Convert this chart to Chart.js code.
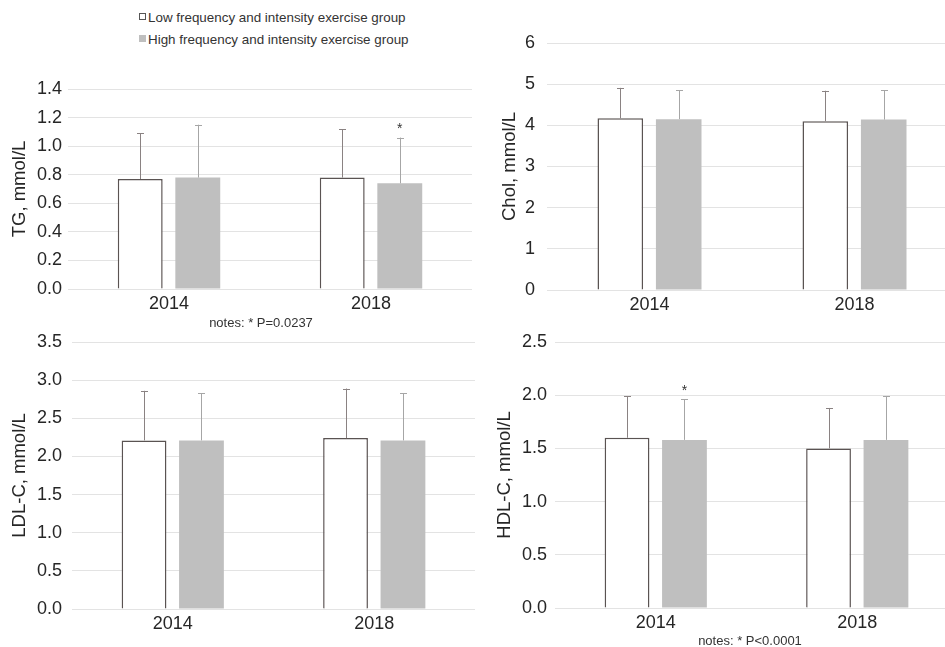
<!DOCTYPE html>
<html>
<head>
<meta charset="utf-8">
<script src="https://cdn.jsdelivr.net/npm/chart.js@4/dist/chart.umd.min.js"></script>
<style>
    html, body { margin: 0; padding: 0; background: #fff; }
    body { width: 945px; height: 647px; position: relative; overflow: hidden; font-family: "Liberation Sans", Arial, sans-serif; }
    canvas { position: absolute; }
    .legend-item { position: absolute; left: 139px; font-size: 13.4px; color: #333; white-space: nowrap; line-height: 16px; }
    .legend-item span.box { display: inline-block; width: 5px; height: 5px; margin-right: 2px; vertical-align: 2px; }
    .note { position: absolute; font-size: 13px; color: #333; white-space: nowrap; transform: translateX(-50%); }
</style>
</head>
<body>
<div id="legend"></div>
<canvas id="tgChart" width="475" height="248" style="left:0px;top:72px"></canvas>
<canvas id="cholChart" width="490" height="320" style="left:470px;top:0px"></canvas>
<canvas id="ldlChart" width="478" height="327" style="left:0px;top:320px"></canvas>
<canvas id="hdlChart" width="490" height="327" style="left:470px;top:320px"></canvas>
<div class="note" style="left:261px;top:315px">notes: * P=0.0237</div>
<div class="note" style="left:750px;top:633px">notes: * P&lt;0.0001</div>
<script>
// Categories and group names
var years = ['2014', '2018'];
var groupNames = ['Low frequency and intensity exercise group', 'High frequency and intensity exercise group'];

// TG (mean and SD per year)
var tgLow = [0.77, 0.78];
var tgLowSd = [0.32, 0.34];
var tgHigh = [0.78, 0.74];
var tgHighSd = [0.37, 0.32];

// Chol
var cholLow = [4.17, 4.10];
var cholLowSd = [0.74, 0.74];
var cholHigh = [4.15, 4.14];
var cholHighSd = [0.70, 0.71];

// LDL-C
var ldlLow = [2.21, 2.24];
var ldlLowSd = [0.65, 0.65];
var ldlHigh = [2.21, 2.21];
var ldlHighSd = [0.62, 0.62];

// HDL-C
var hdlLow = [1.60, 1.50];
var hdlLowSd = [0.39, 0.38];
var hdlHigh = [1.58, 1.58];
var hdlHighSd = [0.38, 0.41];

// Significance marks: [datasetIndex, yearIndex]
var tgStars = [[1, 1]];
var hdlStars = [[1, 0]];

var fontFamily = '"Liberation Sans", Arial, sans-serif';
var textColor = '#262626';

// legend built from the group names
var legendEl = document.getElementById('legend');
var legendBoxes = ['background:#fff;border:1px solid #555;', 'background:#bfbfbf;border:1px solid #bfbfbf;'];
var legendTops = [10, 32];
groupNames.forEach(function (name, i) {
    var div = document.createElement('div');
    div.className = 'legend-item';
    div.style.top = legendTops[i] + 'px';
    div.innerHTML = '<span class="box" style="' + legendBoxes[i] + '"></span>' + name;
    legendEl.appendChild(div);
});

// draws the upper error bars and the stars
var errorBarPlugin = {
    id: 'errorBars',
    afterDatasetsDraw: function (chart) {
        var ctx = chart.ctx;
        var yScale = chart.scales.y;
        var sds = chart.options.plugins.errorBars.sds;
        var stars = chart.options.plugins.errorBars.stars || [];
        var colors = ['#8a8282', '#a6a6a6'];
        ctx.save();
        chart.data.datasets.forEach(function (ds, di) {
            var meta = chart.getDatasetMeta(di);
            meta.data.forEach(function (bar, i) {
                var top = yScale.getPixelForValue(ds.data[i] + sds[di][i]);
                ctx.strokeStyle = colors[di];
                ctx.lineWidth = 1;
                ctx.beginPath();
                ctx.moveTo(Math.round(bar.x) + 0.5, bar.y);
                ctx.lineTo(Math.round(bar.x) + 0.5, top);
                ctx.moveTo(Math.round(bar.x) - 3, Math.round(top) + 0.5);
                ctx.lineTo(Math.round(bar.x) + 4, Math.round(top) + 0.5);
                ctx.stroke();
            });
        });
        stars.forEach(function (s) {
            var ds = chart.data.datasets[s[0]];
            var bar = chart.getDatasetMeta(s[0]).data[s[1]];
            var top = yScale.getPixelForValue(ds.data[s[1]] + sds[s[0]][s[1]]);
            ctx.fillStyle = '#333';
            ctx.font = '14px ' + fontFamily;
            ctx.textAlign = 'center';
            ctx.textBaseline = 'middle';
            ctx.fillText('*', bar.x, top - 8);
        });
        ctx.restore();
    }
};

function buildPanel(canvasId, p) {
    return new Chart(document.getElementById(canvasId), {
        type: 'bar',
        data: {
            labels: years,
            datasets: [{
                label: groupNames[0],
                data: p.low,
                backgroundColor: '#ffffff',
                borderColor: '#5a5352',
                borderWidth: 1.5,
                categoryPercentage: 0.57,
                barPercentage: 0.78
            }, {
                label: groupNames[1],
                data: p.high,
                backgroundColor: '#bfbfbf',
                borderWidth: 0,
                categoryPercentage: 0.57,
                barPercentage: 0.78
            }]
        },
        options: {
            responsive: false,
            animation: false,
            devicePixelRatio: 1,
            layout: {
                padding: { top: p.padTop, right: p.padRight, bottom: 0, left: 0 }
            },
            plugins: {
                legend: { display: false },
                tooltip: { enabled: false },
                errorBars: { sds: [p.lowSd, p.highSd], stars: p.stars }
            },
            scales: {
                x: {
                    grid: { display: false, drawTicks: false },
                    border: { display: false },
                    ticks: { color: textColor, padding: 4, font: { size: 18, family: fontFamily } },
                    afterFit: function (scale) { scale.height = p.xHeight; }
                },
                y: {
                    min: 0,
                    max: p.max,
                    grid: { color: '#e3e3e3', lineWidth: 1, drawTicks: false },
                    border: { display: false },
                    ticks: {
                        stepSize: p.step,
                        padding: p.tickPad,
                        color: textColor,
                        font: { size: 18, family: fontFamily },
                        callback: function (v) { return v.toFixed(p.decimals); }
                    },
                    title: {
                        display: true,
                        text: p.title,
                        color: textColor,
                        font: { size: 18.5, family: fontFamily },
                        padding: { top: p.titlePad, bottom: 0 }
                    },
                    afterFit: function (scale) { scale.width = p.yWidth; }
                }
            }
        },
        plugins: [errorBarPlugin]
    });
}

buildPanel('tgChart', {
    low: tgLow, high: tgHigh, lowSd: tgLowSd, highSd: tgHighSd, stars: tgStars,
    max: 1.4, step: 0.2, decimals: 1, title: 'TG, mmol/L',
    yWidth: 68, padTop: 17, padRight: 3, xHeight: 31, tickPad: 6, titlePad: 9
});
buildPanel('cholChart', {
    low: cholLow, high: cholHigh, lowSd: cholLowSd, highSd: cholHighSd, stars: [],
    max: 6, step: 1, decimals: 0, title: 'Chol, mmol/L',
    yWidth: 77, padTop: 43, padRight: 3, xHeight: 30, tickPad: 12, titlePad: 29
});
buildPanel('ldlChart', {
    low: ldlLow, high: ldlHigh, lowSd: ldlLowSd, highSd: ldlHighSd, stars: [],
    max: 3.5, step: 0.5, decimals: 1, title: 'LDL-C, mmol/L',
    yWidth: 72, padTop: 22, padRight: 3, xHeight: 38, tickPad: 10, titlePad: 9
});
buildPanel('hdlChart', {
    low: hdlLow, high: hdlHigh, lowSd: hdlLowSd, highSd: hdlHighSd, stars: hdlStars,
    max: 2.5, step: 0.5, decimals: 1, title: 'HDL-C, mmol/L',
    yWidth: 85, padTop: 22, padRight: 2, xHeight: 39, tickPad: 8, titlePad: 24
});
</script>
</body>
</html>
